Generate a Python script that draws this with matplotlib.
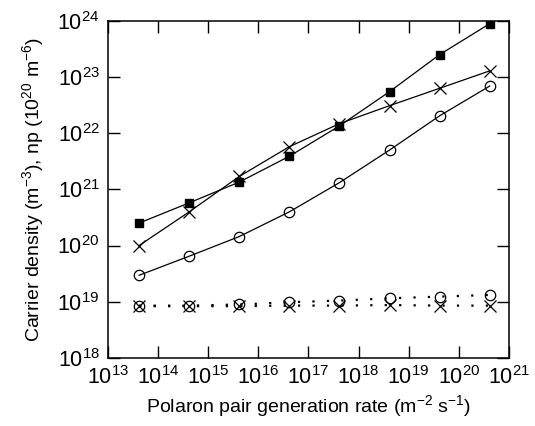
import matplotlib
matplotlib.use('Agg')
import matplotlib.pyplot as plt
import matplotlib.ticker as plticker
import numpy as np

plt.rcParams['font.family'] = ['Liberation Sans', 'DejaVu Sans']
plt.rcParams['mathtext.fontset'] = 'custom'
plt.rcParams['mathtext.rm'] = 'Liberation Sans'
plt.rcParams['mathtext.it'] = 'Liberation Sans:italic'
plt.rcParams['mathtext.bf'] = 'Liberation Sans:bold'

# generation rate, log10 (m^-2 s^-1)
log_g = [13.62, 14.62, 15.62, 16.62, 17.62, 18.62, 19.62, 20.62]

# log10 of densities
log_np = [20.40, 20.76, 21.13, 21.59, 22.13, 22.74, 23.40, 23.95]
log_n_solid = [20.00, 20.60, 21.23, 21.76, 22.17, 22.49, 22.80, 23.11]
log_p_solid = [19.47, 19.81, 20.16, 20.60, 21.12, 21.70, 22.31, 22.84]
log_p_dotted = [18.93, 18.93, 18.95, 18.99, 19.02, 19.06, 19.09, 19.12]
log_n_dotted = [18.92, 18.92, 18.92, 18.93, 18.93, 18.94, 18.93, 18.93]

# decade ticks
x_decades = list(range(13, 22))
y_decades = list(range(18, 25))

g = 10.0 ** np.array(log_g)

fig = plt.figure(figsize=(5.35, 4.26), dpi=100)
ax = fig.add_axes([0.202, 0.160, 0.749, 0.791])

lw = 0.9
ax.plot(g, 10.0 ** np.array(log_np), color='k', lw=lw, marker='s', ms=6,
        mfc='k', mec='k')
ax.plot(g, 10.0 ** np.array(log_n_solid), color='k', lw=lw, marker='x', ms=8,
        mew=0.9)
ax.plot(g, 10.0 ** np.array(log_p_solid), color='k', lw=lw, marker='o', ms=7.5,
        mfc='none', mec='k', mew=0.9)

dots = (0, (1, 5.5))
ax.plot(g, 10.0 ** np.array(log_p_dotted), color='k', lw=1.6, ls=dots)
ax.plot(g, 10.0 ** np.array(log_p_dotted), ls='none', marker='o', ms=7.5,
        mfc='none', mec='k', mew=0.9)
ax.plot(g, 10.0 ** np.array(log_n_dotted), color='k', lw=1.6, ls=dots)
ax.plot(g, 10.0 ** np.array(log_n_dotted), ls='none', marker='x', ms=8,
        mec='k', mew=0.9)

ax.set_xscale('log')
ax.set_yscale('log')
ax.set_xlim(1e13, 1e21)
ax.set_ylim(1e18, 1e24)
ax.set_xticks([10.0 ** d for d in x_decades],
              [r'$10^{%d}$' % d for d in x_decades])
ax.set_yticks([10.0 ** d for d in y_decades],
              [r'$10^{%d}$' % d for d in y_decades])
ax.xaxis.set_minor_locator(plticker.NullLocator())
ax.yaxis.set_minor_locator(plticker.NullLocator())

ax.tick_params(which='major', direction='in', length=8.5, width=1.0,
               top=True, right=True, labelsize=15.5, pad=6)
for s in ax.spines.values():
    s.set_linewidth(1.1)

ax.set_xlabel(r'Polaron pair generation rate (m$^{-2}$ s$^{-1}$)', fontsize=14,
              labelpad=3)
ax.set_ylabel(r'Carrier density (m$^{-3}$), np (10$^{20}$ m$^{-6}$)',
              fontsize=14, labelpad=8)

fig.savefig('out.png', dpi=100)
